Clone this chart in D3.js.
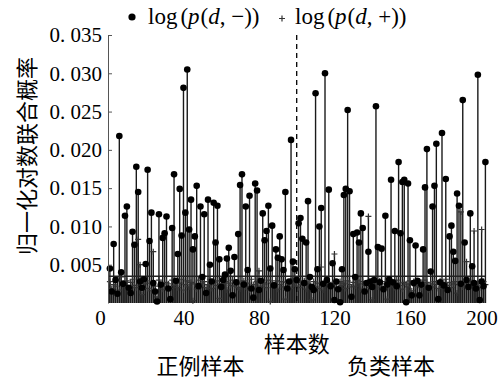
<!DOCTYPE html>
<html>
<head>
<meta charset="utf-8">
<script src="https://cdn.jsdelivr.net/npm/d3@7"></script>
<style>
  body { margin: 0; background: #fff; }
  svg { display: block; }
  .num { font-family: "Liberation Serif", "DejaVu Serif", serif; font-size: 21px; }
  .leg { font-family: "Liberation Serif", "DejaVu Serif", serif; font-size: 23px; }
  .cjk { font-family: "Noto Sans CJK SC", sans-serif; font-size: 22px; }
</style>
</head>
<body>
<svg id="chart" width="500" height="380"></svg>
<script>
// normalised log joint probability per sample, samples 1..200
const minusValues = [
  0.0045, 0.0015, 0.0077, 0.0030, 0.0012, 0.0218, 0.0040, 0.0025, 0.0114, 0.0126,
  0.0020, 0.0013, 0.0093, 0.0076, 0.0178, 0.0145, 0.0028, 0.0020, 0.0031, 0.0051,
  0.0174, 0.0081, 0.0118, 0.0026, 0.0015, 0.0002, 0.0116, 0.0024, 0.0085, 0.0091,
  0.0113, 0.0019, 0.0005, 0.0098, 0.0168, 0.0029, 0.0064, 0.0149, 0.0088, 0.0281,
  0.0118, 0.0305, 0.0096, 0.0135, 0.0070, 0.0087, 0.0153, 0.0022, 0.0126, 0.0034,
  0.0116, 0.0013, 0.0135, 0.0050, 0.0028, 0.0131, 0.0079, 0.0127, 0.0057, 0.0021,
  0.0030, 0.0037, 0.0058, 0.0072, 0.0042, 0.0010, 0.0060, 0.0027, 0.0090, 0.0154,
  0.0168, 0.0024, 0.0126, 0.0043, 0.0140, 0.0019, 0.0007, 0.0156, 0.0147, 0.0017,
  0.0029, 0.0117, 0.0082, 0.0094, 0.0127, 0.0045, 0.0101, 0.0023, 0.0070, 0.0059,
  0.0087, 0.0057, 0.0043, 0.0145, 0.0019, 0.0028, 0.0213, 0.0054, 0.0044, 0.0030,
  0.0104, 0.0111, 0.0084, 0.0026, 0.0079, 0.0133, 0.0034, 0.0021, 0.0017, 0.0274,
  0.0044, 0.0100, 0.0124, 0.0025, 0.0300, 0.0030, 0.0148, 0.0022, 0.0052, 0.0004,
  0.0028, 0.0018, 0.0001, 0.0044, 0.0141, 0.0149, 0.0252, 0.0146, 0.0008, 0.0090,
  0.0034, 0.0092, 0.0079, 0.0117, 0.0098, 0.0015, 0.0026, 0.0067, 0.0028, 0.0021,
  0.0030, 0.0257, 0.0073, 0.0027, 0.0071, 0.0018, 0.0114, 0.0024, 0.0031, 0.0161,
  0.0027, 0.0094, 0.0022, 0.0184, 0.0091, 0.0158, 0.0161, 0.0001, 0.0156, 0.0082,
  0.0010, 0.0026, 0.0075, 0.0029, 0.0010, 0.0024, 0.0070, 0.0151, 0.0201, 0.0020,
  0.0041, 0.0126, 0.0153, 0.0208, 0.0005, 0.0027, 0.0222, 0.0023, 0.0162, 0.0017,
  0.0087, 0.0101, 0.0067, 0.0055, 0.0143, 0.0127, 0.0025, 0.0265, 0.0079, 0.0030,
  0.0021, 0.0117, 0.0048, 0.0026, 0.0019, 0.0298, 0.0004, 0.0028, 0.0022, 0.0184
];
const plusValues = [
  0.0028, 0.0019, 0.0024, 0.0022, 0.0030, 0.0017, 0.0034, 0.0026, 0.0021, 0.0029,
  0.0018, 0.0027, 0.0031, 0.0023, 0.0020, 0.0083, 0.0050, 0.0011, 0.0025, 0.0029,
  0.0019, 0.0026, 0.0016, 0.0067, 0.0022, 0.0008, 0.0030, 0.0024, 0.0018, 0.0021,
  0.0027, 0.0025, 0.0019, 0.0030, 0.0023, 0.0028, 0.0020, 0.0026, 0.0031, 0.0017,
  0.0024, 0.0029, 0.0021, 0.0027, 0.0003, 0.0025, 0.0018, 0.0030, 0.0022, 0.0026,
  0.0028, 0.0020, 0.0024, 0.0031, 0.0019, 0.0027, 0.0023, 0.0029, 0.0006, 0.0025,
  0.0021, 0.0028, 0.0017, 0.0026, 0.0023, 0.0030, 0.0022, 0.0027, 0.0020, 0.0018,
  0.0025, 0.0029, 0.0021, 0.0026, 0.0017, 0.0031, 0.0024, 0.0019, 0.0028, 0.0042,
  0.0022, 0.0027, 0.0025, 0.0020, 0.0030, 0.0002, 0.0026, 0.0023, 0.0029, 0.0018,
  0.0024, 0.0028, 0.0021, 0.0005, 0.0027, 0.0025, 0.0019, 0.0032, 0.0026, 0.0022,
  0.0020, 0.0027, 0.0024, 0.0029, 0.0018, 0.0025, 0.0023, 0.0004, 0.0028, 0.0021,
  0.0026, 0.0019, 0.0047, 0.0017, 0.0024, 0.0030, 0.0027, 0.0022, 0.0025, 0.0064,
  0.0025, 0.0020, 0.0028, 0.0023, 0.0026, 0.0019, 0.0029, 0.0024, 0.0021, 0.0027,
  0.0022, 0.0030, 0.0025, 0.0018, 0.0028, 0.0023, 0.0026, 0.0113, 0.0020, 0.0004,
  0.0027, 0.0024, 0.0021, 0.0029, 0.0025, 0.0019, 0.0028, 0.0005, 0.0022, 0.0027,
  0.0024, 0.0020, 0.0030, 0.0026, 0.0023, 0.0018, 0.0027, 0.0025, 0.0021, 0.0029,
  0.0016, 0.0028, 0.0022, 0.0026, 0.0024, 0.0020, 0.0030, 0.0023, 0.0027, 0.0017,
  0.0025, 0.0021, 0.0028, 0.0024, 0.0019, 0.0029, 0.0022, 0.0026, 0.0031, 0.0023,
  0.0027, 0.0020, 0.0025, 0.0028, 0.0013, 0.0024, 0.0119, 0.0021, 0.0026, 0.0054,
  0.0029, 0.0023, 0.0027, 0.0094, 0.0022, 0.0025, 0.0020, 0.0096, 0.0028, 0.0024
];
const threshold = 0.0035;
const splitSample = 100;
const yTicks = [0.005, 0.010, 0.015, 0.020, 0.025, 0.030, 0.035];
const xTicks = [0, 40, 80, 120, 160, 200];
const groupLabels = [
  { name: '正例样本', at: 49 },
  { name: '负类样本', at: 150 }
];

const svg = d3.select('#chart');
const x = d3.scaleLinear().domain([0, 200]).range([108, 485.4]);
const y = d3.scaleLinear().domain([0, 0.035]).range([303, 35]);

const samples = minusValues.map((m, i) => ({ i: i + 1, minus: m, plus: plusValues[i] }));

// stems
const stems = svg.append('g').attr('stroke', '#1a1a1a').attr('stroke-width', 1.4);
stems.selectAll('line.p').data(samples).enter().append('line')
  .attr('class', 'p')
  .attr('x1', d => x(d.i)).attr('x2', d => x(d.i))
  .attr('y1', y(0)).attr('y2', d => y(d.plus));
stems.selectAll('line.m').data(samples).enter().append('line')
  .attr('class', 'm')
  .attr('x1', d => x(d.i)).attr('x2', d => x(d.i))
  .attr('y1', y(0)).attr('y2', d => y(d.minus));

// threshold line
svg.append('line')
  .attr('x1', x(0)).attr('x2', x(200))
  .attr('y1', y(threshold)).attr('y2', y(threshold))
  .attr('stroke', '#222').attr('stroke-width', 1.5);

// markers
svg.append('g').selectAll('path').data(samples).enter().append('path')
  .attr('d', d => `M${x(d.i) - 3},${y(d.plus)}h6M${x(d.i)},${y(d.plus) - 3}v6`)
  .attr('stroke', '#333').attr('stroke-width', 1.2).attr('fill', 'none');
svg.append('g').selectAll('circle').data(samples).enter().append('circle')
  .attr('cx', d => x(d.i)).attr('cy', d => y(d.minus))
  .attr('r', 3.3).attr('fill', '#000');

// split line between positive and negative samples
svg.append('line')
  .attr('x1', x(splitSample)).attr('x2', x(splitSample))
  .attr('y1', y(0.035)).attr('y2', y(0))
  .attr('stroke', '#000').attr('stroke-width', 1.3)
  .attr('stroke-dasharray', '5,4');

// y axis
const yAxis = d3.axisLeft(y)
  .tickValues(yTicks)
  .tickSizeInner(-4).tickSizeOuter(0).tickPadding(6)
  .tickFormat(v => d3.format('.3f')(v).replace('.', '. '));
const gy = svg.append('g').attr('transform', `translate(${x(0)},0)`).call(yAxis);
gy.select('.domain').attr('stroke', '#555');
gy.selectAll('.tick line').attr('stroke', '#555');
gy.selectAll('text').attr('class', 'num').attr('fill', '#000').attr('font-size', null).attr('font-family', null);

// x tick labels
const xAxis = d3.axisBottom(x).tickValues(xTicks).tickSize(0).tickPadding(7);
const gx = svg.append('g').attr('transform', `translate(0,${y(0)})`).call(xAxis);
gx.select('.domain').remove();
gx.selectAll('text').attr('class', 'num').attr('fill', '#000')
  .attr('font-size', null).attr('font-family', null)
  .attr('dx', d => d === 0 ? -8 : d === 200 ? -4 : 0);

// axis titles
svg.append('text').attr('class', 'cjk')
  .attr('x', x(100)).attr('y', 352).attr('text-anchor', 'middle')
  .text('样本数');
svg.append('text').attr('class', 'cjk')
  .attr('transform', 'translate(35,156) rotate(-90)')
  .attr('text-anchor', 'middle')
  .text('归一化对数联合概率');
svg.selectAll('text.group').data(groupLabels).enter().append('text')
  .attr('class', 'cjk group')
  .attr('x', d => x(d.at)).attr('y', 374).attr('text-anchor', 'middle')
  .text(d => d.name);

// legend
function legendText(sx, sign) {
  const t = svg.append('text').attr('class', 'leg').attr('x', sx).attr('y', 24);
  t.append('tspan').text('log');
  t.append('tspan').attr('dx', 3).text('(');
  t.append('tspan').attr('font-style', 'italic').text('p');
  t.append('tspan').attr('dx', 1).text('(');
  t.append('tspan').attr('font-style', 'italic').text('d');
  t.append('tspan').text(', ' + sign + '))');
}
svg.append('circle').attr('cx', 132).attr('cy', 17).attr('r', 3.6).attr('fill', '#000');
legendText(148, '−');
svg.append('path')
  .attr('d', 'M279,18.5h6M282,15.5v6')
  .attr('stroke', '#333').attr('stroke-width', 1.2);
legendText(295, '+');
</script>
</body>
</html>
